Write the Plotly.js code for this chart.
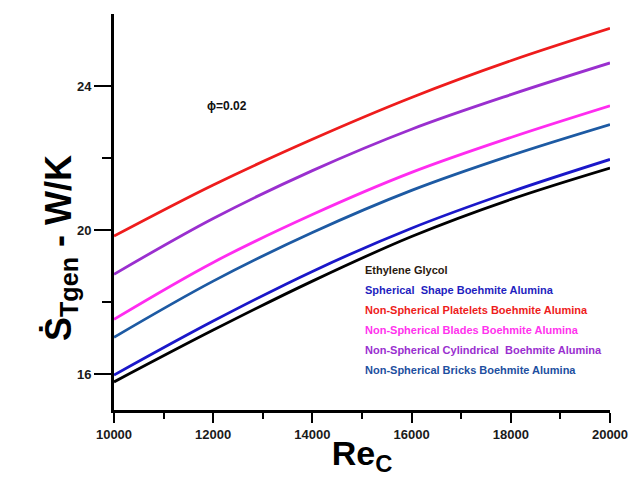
<!DOCTYPE html>
<html>
<head>
<meta charset="utf-8">
<script src="https://cdn.plot.ly/plotly-3.0.1.min.js"></script>
<style>html,body{margin:0;padding:0;background:#fff;}#chart{width:640px;height:477px;}</style>
</head>
<body>
<div id="chart"></div>
<script>
var reynolds = [10000, 12000, 14000, 16000, 18000, 20000];
var ethyleneGlycol = [15.78, 17.22, 18.58, 19.82, 20.85, 21.72];
var sphericalShape = [15.97, 17.47, 18.85, 20.05, 21.06, 21.96];
var platelets      = [19.83, 21.25, 22.52, 23.68, 24.70, 25.60];
var blades         = [17.52, 19.10, 20.43, 21.60, 22.57, 23.45];
var cylindrical    = [18.77, 20.32, 21.65, 22.80, 23.76, 24.64];
var bricks         = [17.02, 18.58, 19.93, 21.10, 22.07, 22.93];

var seriesNames = [
  "Ethylene Glycol",
  "Spherical  Shape Boehmite Alumina",
  "Non-Spherical Platelets Boehmite Alumina",
  "Non-Spherical Blades Boehmite Alumina",
  "Non-Spherical Cylindrical  Boehmite Alumina",
  "Non-Spherical Bricks Boehmite Alumina"
];
var seriesValues = [ethyleneGlycol, sphericalShape, platelets, blades, cylindrical, bricks];
var lineColors = ["#000000", "#1a17c9", "#ee1c1c", "#ff2cf0", "#9a2fcf", "#1d5aa3"];
var labelColors = ["#2a1a10", "#1f1fc0", "#ee1c1c", "#ff33ee", "#9a2fcf", "#1d4fa0"];

var font = "Liberation Sans, Arial, sans-serif";

var traces = seriesValues.map(function (vals, i) {
  return {
    x: reynolds, y: vals, type: "scatter", mode: "lines",
    name: seriesNames[i],
    line: {color: lineColors[i], width: 2.8, shape: "spline", smoothing: 1}
  };
});

var annotations = seriesNames.map(function (n, i) {
  return {
    xref: "paper", yref: "paper", x: 0.503, y: 0.354 - i * 0.0505,
    xanchor: "left", yanchor: "middle", showarrow: false, text: n,
    font: {family: font, size: 11, weight: "bold", color: labelColors[i]}
  };
});
annotations.push({
  xref: "paper", yref: "paper", x: 0.228, y: 0.768, xanchor: "center", yanchor: "middle",
  showarrow: false, text: "ϕ=0.02",
  font: {family: font, size: 12, weight: "bold", color: "#111"}
});
annotations.push({
  xref: "paper", yref: "paper", x: -0.108, y: 0.41, xanchor: "center", yanchor: "middle",
  showarrow: false, textangle: -90, text: "Ṡ<sub>Tgen</sub> - W/K",
  font: {family: font, size: 36, weight: "bold", color: "#000"}
});

var layout = {
  width: 640, height: 477,
  margin: {l: 114, r: 30, t: 14, b: 67},
  paper_bgcolor: "#fff", plot_bgcolor: "#fff",
  showlegend: false,
  xaxis: {
    range: [10000, 20000], dtick: 2000, tick0: 10000, tickformat: "d",
    showgrid: false, zeroline: false,
    showline: true, linecolor: "#000", linewidth: 3,
    ticks: "outside", ticklen: 10, tickwidth: 2, tickcolor: "#000",
    minor: {dtick: 1000, ticks: "outside", ticklen: 6, tickwidth: 2, tickcolor: "#000"},
    tickfont: {family: font, size: 13, weight: "bold", color: "#1a1a1a"},
    title: {text: "Re<sub>C</sub>", standoff: 2,
            font: {family: font, size: 34, weight: "bold", color: "#000"}}
  },
  yaxis: {
    range: [15, 26], tickvals: [16, 20, 24],
    showgrid: false, zeroline: false,
    showline: true, linecolor: "#000", linewidth: 3,
    ticks: "outside", ticklen: 17, tickwidth: 2, tickcolor: "#000",
    minor: {tickvals: [18, 22], ticks: "outside", ticklen: 9, tickwidth: 2, tickcolor: "#000"},
    tickfont: {family: font, size: 13, weight: "bold", color: "#1a1a1a"}
  },
  annotations: annotations
};

Plotly.newPlot("chart", traces, layout, {staticPlot: true});
</script>
</body>
</html>
